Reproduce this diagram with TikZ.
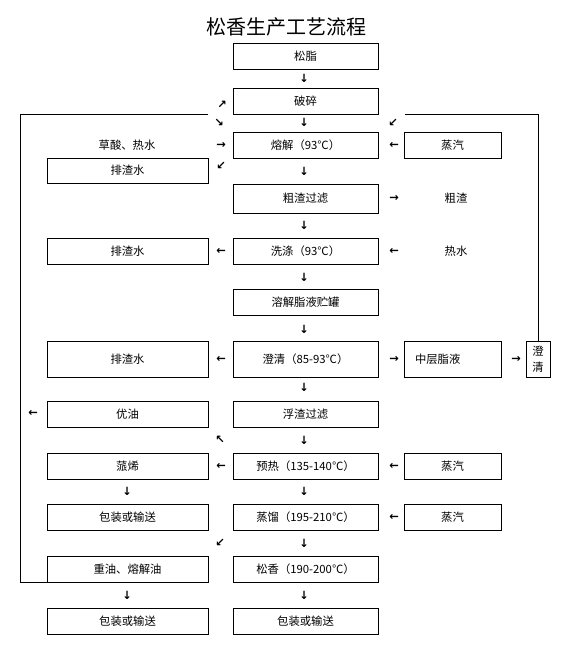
\documentclass[tikz,border=0pt]{standalone}
\usepackage{fontspec}
\newfontfamily\cjk{Noto Sans CJK SC}
\newfontfamily\arrfont{DejaVu Sans Bold}
\begin{document}
\begin{tikzpicture}[x=0.75pt,y=-0.75pt,
  txt/.style={font=\cjk\fontsize{8.5}{12}\selectfont, inner sep=0pt},
  bx/.style={txt, draw, line width=0.7pt, minimum height=19.5pt},
  cbox/.style={bx, minimum width=108.75pt},
  lbox/.style={bx, minimum width=120.75pt},
  rbox/.style={bx, minimum width=72.75pt},
  tall/.style={minimum height=27pt},
  ar/.style={font=\arrfont\fontsize{8.5}{8.5}\selectfont, inner sep=0pt},
  loop/.style={line width=0.7pt}]
\useasboundingbox (0,0) rectangle (575,660);
\node[font=\cjk\fontsize{15}{18}\selectfont] (title) at (286,27) {松香生产工艺流程};
% centre column
\node[cbox] (c0) at (305.5,56) {松脂};
\node[cbox] (c1) at (305.5,101.5) {破碎};
\node[cbox] (c2) at (305.5,145.5) {熔解（93℃）};
\node[cbox, minimum height=21.75pt] (c3) at (305.5,198.5) {粗渣过滤};
\node[cbox] (c4) at (305.5,251) {洗涤（93℃）};
\node[cbox] (c5) at (305.5,302.5) {溶解脂液贮罐};
\node[cbox, tall] (c6) at (305.5,359) {澄清（85-93℃）};
\node[cbox] (c7) at (305.5,414) {浮渣过滤};
\node[cbox] (c8) at (305.5,466) {预热（135-140℃）};
\node[cbox] (c9) at (305.5,517) {蒸馏（195-210℃）};
\node[cbox] (c10) at (305.5,569) {松香（190-200℃）};
\node[cbox] (c11) at (305.5,621) {包装或输送};
% left column
\node[lbox, minimum height=18.75pt] (l1) at (127.5,170.5) {排渣水};
\node[lbox] (l2) at (127.5,251) {排渣水};
\node[lbox, tall] (l3) at (127.5,359) {排渣水};
\node[lbox] (l4) at (127.5,414) {优油};
\node[lbox] (l5) at (127.5,466) {蒎烯};
\node[lbox] (l6) at (127.5,517) {包装或输送};
\node[lbox] (l7) at (127.5,569) {重油、熔解油};
\node[lbox] (l8) at (127.5,621) {包装或输送};
% right column
\node[rbox] (r1) at (452.5,145.5) {蒸汽};
\node[rbox, tall] (r2) at (452.5,359) {\makebox[56.25pt][l]{中层脂液}};
\node[rbox] (r3) at (452.5,466) {蒸汽};
\node[rbox] (r4) at (452.5,517) {蒸汽};
\node[bx, tall, minimum width=18pt, align=center] (s) at (538,359) {澄\\清};
% free labels
\node[txt] (t1) at (127,145.5) {草酸、热水};
\node[txt] (t2) at (456,198.5) {粗渣};
\node[txt] (t3) at (456,251) {热水};
% arrow glyphs
\node[ar] (a1) at (304,78) {↓};
\node[ar] (a2) at (304,122) {↓};
\node[ar] (a3) at (304,171) {↓};
\node[ar] (a4) at (304,225) {↓};
\node[ar] (a5) at (304,277) {↓};
\node[ar] (a6) at (304,329) {↓};
\node[ar] (a7) at (304,387) {↓};
\node[ar] (a8) at (304,440) {↓};
\node[ar] (a9) at (304,491) {↓};
\node[ar] (a10) at (304,543) {↓};
\node[ar] (a11) at (304,595) {↓};
\node[ar] (a12) at (127,491) {↓};
\node[ar] (a13) at (127,595) {↓};
\node[ar] (a14) at (222,105) {↗};
\node[ar] (a15) at (219,123) {↘};
\node[ar] (a16) at (221,145.5) {→};
\node[ar] (a17) at (221,166) {↙};
\node[ar] (a18) at (393,123) {↙};
\node[ar] (a19) at (394,145.5) {←};
\node[ar] (a20) at (394,198.5) {→};
\node[ar] (a21) at (221,251) {←};
\node[ar] (a22) at (394,251) {←};
\node[ar] (a23) at (221,359) {←};
\node[ar] (a24) at (394,359) {→};
\node[ar] (a25) at (516,359) {→};
\node[ar] (a26) at (33,413) {←};
\node[ar] (a27) at (220,440) {↖};
\node[ar] (a28) at (221,466) {←};
\node[ar] (a29) at (394,466) {←};
\node[ar] (a30) at (394,517) {←};
\node[ar] (a31) at (220,543) {↙};
% loop lines
\coordinate (ltop) at (208,114);
\coordinate (lcorner) at (20,114);
\coordinate (rtop) at (405,114);
\draw[loop] (ltop) -- (lcorner) |- (l7.south west);
\draw[loop] (s.north) |- (rtop);
\end{tikzpicture}
\end{document}
